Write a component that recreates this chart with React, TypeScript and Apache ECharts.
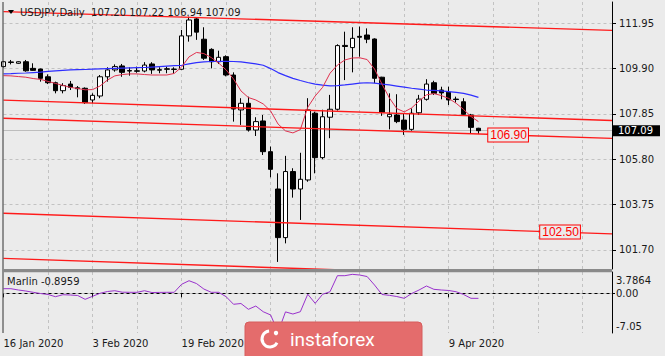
import React, { useEffect, useRef } from "react";
import * as echarts from "echarts";

const FONT = "DejaVu Sans";
const BG = "#ebebeb";

const dates = [
  "16 Jan 2020","17 Jan 2020","20 Jan 2020","21 Jan 2020","22 Jan 2020","23 Jan 2020","24 Jan 2020","27 Jan 2020","28 Jan 2020","29 Jan 2020",
  "30 Jan 2020","31 Jan 2020","3 Feb 2020","4 Feb 2020","5 Feb 2020","6 Feb 2020","7 Feb 2020","10 Feb 2020","11 Feb 2020","12 Feb 2020",
  "13 Feb 2020","14 Feb 2020","17 Feb 2020","18 Feb 2020","19 Feb 2020","20 Feb 2020","21 Feb 2020","24 Feb 2020","25 Feb 2020","26 Feb 2020",
  "27 Feb 2020","28 Feb 2020","2 Mar 2020","3 Mar 2020","4 Mar 2020","5 Mar 2020","6 Mar 2020","9 Mar 2020","10 Mar 2020","11 Mar 2020",
  "12 Mar 2020","13 Mar 2020","16 Mar 2020","17 Mar 2020","18 Mar 2020","19 Mar 2020","20 Mar 2020","23 Mar 2020","24 Mar 2020","25 Mar 2020",
  "26 Mar 2020","27 Mar 2020","30 Mar 2020","31 Mar 2020","1 Apr 2020","2 Apr 2020","3 Apr 2020","6 Apr 2020","7 Apr 2020","8 Apr 2020",
  "9 Apr 2020","10 Apr 2020","13 Apr 2020","14 Apr 2020","15 Apr 2020",
];
const futureSlots = 18;
const labelIdx = [0, 12, 24, 60];

const opens = [
  109.99,110.20,110.14,110.21,109.91,109.88,109.53,109.26,108.90,109.20,
  109.03,109.01,108.48,108.66,109.53,109.84,110.02,109.81,109.80,109.79,
  110.11,109.85,109.89,109.86,109.87,111.38,112.15,111.23,110.77,110.21,
  110.44,109.61,108.03,108.33,107.12,107.53,106.14,104.45,102.25,105.24,
  104.45,104.86,107.88,105.87,107.70,108.06,110.95,110.85,111.36,111.42,
  111.24,109.51,107.72,107.80,107.57,107.15,107.90,108.51,109.26,108.93,
  108.83,108.52,108.40,107.80,107.20,
];
const closes = [
  110.21,110.18,110.21,109.80,109.82,109.46,109.26,108.90,109.13,109.05,
  108.99,108.36,108.69,109.53,109.84,109.99,109.73,109.79,109.78,110.06,
  109.84,109.83,109.87,109.88,111.38,112.10,111.55,110.37,110.21,110.41,
  109.61,108.07,108.33,107.12,107.50,106.14,105.34,102.25,105.24,104.45,
  104.89,108.03,105.87,107.72,108.06,110.94,110.90,111.27,111.32,111.23,
  109.46,107.92,107.83,107.50,107.15,107.88,108.52,109.20,108.78,108.80,
  108.48,108.50,107.83,107.24,107.09,
];
const lows = [
  109.95,110.09,110.12,109.76,109.80,109.31,109.20,108.78,108.78,108.93,
  108.60,108.30,108.33,108.56,109.31,109.76,109.53,109.58,109.71,109.73,
  109.66,109.69,109.69,109.68,109.84,111.12,111.20,110.29,109.91,110.11,
  109.55,107.50,107.35,107.05,106.85,105.99,104.98,101.15,101.99,104.06,
  103.05,104.78,105.16,105.80,106.75,108.00,109.38,109.73,110.44,111.05,
  109.24,107.76,107.15,107.43,106.90,107.09,107.80,108.45,108.71,108.51,
  108.25,108.36,107.76,106.97,106.94,
];
const highs = [
  110.25,110.29,110.23,110.29,110.14,109.90,109.64,109.31,109.24,109.34,
  109.11,109.05,108.78,109.61,109.96,110.09,110.11,109.96,109.99,110.19,
  110.19,109.96,109.99,109.96,111.65,112.25,112.22,111.77,110.82,110.71,
  110.50,109.73,108.56,108.63,107.70,107.80,106.37,105.16,105.95,105.39,
  106.09,108.56,107.95,108.04,108.71,111.00,111.57,111.77,111.80,111.72,
  111.27,109.53,108.78,108.74,107.88,108.10,108.71,109.42,109.35,109.08,
  109.08,108.63,108.56,107.85,107.22,
];
const maSlow = [
  109.66,109.67,109.69,109.70,109.72,109.74,109.77,109.80,109.82,109.84,
  109.85,109.86,109.88,109.89,109.90,109.91,109.92,109.93,109.94,109.95,
  109.97,109.99,110.01,110.03,110.05,110.11,110.17,110.20,110.22,110.23,
  110.23,110.22,110.20,110.16,110.11,110.05,109.90,109.72,109.58,109.46,
  109.36,109.27,109.20,109.15,109.12,109.13,109.16,109.20,109.24,109.26,
  109.24,109.20,109.16,109.11,109.06,109.01,108.97,108.93,108.91,108.89,
  108.86,108.82,108.78,108.70,108.60,
];
const maFast = [
  109.58,109.57,109.54,109.51,109.45,109.41,109.32,109.23,109.14,109.05,
  109.00,108.94,108.95,109.11,109.38,109.57,109.63,109.66,109.66,109.63,
  109.61,109.61,109.61,109.68,109.97,110.43,110.63,110.58,110.40,110.15,
  109.84,109.43,108.89,108.59,108.48,108.30,107.98,107.39,107.08,106.99,
  107.14,108.15,108.66,109.05,109.69,110.06,110.29,110.38,110.39,110.31,
  109.88,109.20,108.57,108.09,107.94,108.12,108.43,108.71,108.77,108.68,
  108.55,108.33,108.05,107.73,107.50,
];
const marlin = [
  0.82,0.82,0.59,0.41,0.18,-0.04,-0.21,-0.6,-0.25,-0.3,
  -0.39,-1.07,-0.53,0,0.32,0.46,0.2,0.18,0.18,0.46,
  0.14,0.16,0.18,0.18,1.6,2.24,1.74,0.76,0.18,0.18,
  -0.6,-1.95,-1.81,-2.84,-2.26,-3.27,-3.85,-6.9,-3.3,-3.68,
  -3.27,-0.16,-1.78,-0.18,0.28,3.13,3.13,3.37,3.25,2.98,
  1.47,-0.21,-0.36,-0.57,-0.89,-0.04,0.59,1.3,0.71,0.59,
  0.5,0.28,-0.21,-0.89,-0.8959,
];

const priceTicks = [101.7, 103.75, 105.8, 107.85, 109.9, 111.95];
const priceMin = 100.83;
const priceMax = 112.914;
const marlinTicks = [-7.05, 0, 3.7864];
const marlinTickLabels = ["-7.05", "0.00", "3.7864"];

const channelStart = [112.48, 108.475, 107.65, 103.35, 101.31];
const channelEnd = [111.63, 107.55, 106.74, 102.42, 100.37];
const levelValues = [106.9, 102.5];
const levelIdx = [68, 75];
const levelLine = [2, 3];

export default function App() {
  const ref = useRef<HTMLDivElement>(null);
  useEffect(() => {
    if (!ref.current) return;
    const chart = echarts.init(ref.current, undefined, { renderer: "svg" });
    const cats = dates.concat(Array.from({ length: futureSlots }, (_, i) => `+${i + 1}`));
    const n = cats.length;
    const candles = dates.map((_, i) => [opens[i], closes[i], lows[i], highs[i]]);
    const gridColor = "#c2c2c2";
    const every6 = (i: number) => i > 0 && i % 6 === 0;
    const isLabel = (i: number) => labelIdx.indexOf(i) >= 0;
    const last = dates.length - 1;

    const channelSeries = channelStart.map((s, k) => {
      const lvl = levelLine.indexOf(k);
      return {
        type: "line",
        xAxisIndex: 0,
        yAxisIndex: 0,
        data: [[0, s], [n - 1, channelEnd[k]]],
        showSymbol: false,
        silent: true,
        z: 5,
        lineStyle: { color: "#ff1a1a", width: 1.4 },
        markPoint:
          lvl >= 0
            ? {
                symbol: "rect",
                symbolSize: 0,
                silent: true,
                z: 6,
                data: [{ coord: [levelIdx[lvl], levelValues[lvl]], value: levelValues[lvl].toFixed(2) }],
                label: {
                  show: true,
                  position: "inside",
                  formatter: levelValues[lvl].toFixed(2),
                  color: "#ff0000",
                  fontFamily: "Liberation Sans",
                  fontSize: 12,
                  backgroundColor: BG,
                  borderColor: "#ff0000",
                  borderWidth: 1,
                  padding: [1, 1, 0, 2],
                },
              }
            : undefined,
      };
    });

    const option: any = {
      animation: false,
      backgroundColor: BG,
      grid: [
        { left: 3.5, top: 2, width: 608.5, height: 267 },
        { left: 3.5, top: 272, width: 608.5, height: 61 },
      ],
      xAxis: [
        {
          type: "category",
          gridIndex: 0,
          data: cats,
          boundaryGap: false,
          axisLine: { show: false },
          axisTick: { show: false },
          axisLabel: { show: false },
          splitLine: { show: true, interval: every6, lineStyle: { color: gridColor, type: [3, 3], width: 1 } },
        },
        {
          type: "category",
          gridIndex: 1,
          data: cats,
          boundaryGap: false,
          axisLine: { show: true, lineStyle: { color: "#000", width: 1 } },
          axisTick: { show: true, interval: isLabel, length: 4, lineStyle: { color: "#000" } },
          axisLabel: {
            show: true,
            interval: isLabel,
            align: "left",
            margin: 5,
            color: "#1a1a1a",
            fontFamily: FONT,
            fontSize: 10,
          },
          splitLine: { show: true, interval: every6, lineStyle: { color: gridColor, type: [3, 3], width: 1 } },
        },
      ],
      yAxis: [
        {
          type: "value",
          gridIndex: 0,
          position: "right",
          min: priceMin,
          max: priceMax,
          scale: true,
          splitLine: { show: false },
          axisLine: { show: true, lineStyle: { color: "#000", width: 1 } },
          axisTick: { show: true, customValues: priceTicks, length: 4, lineStyle: { color: "#000" } },
          axisLabel: {
            show: true,
            customValues: priceTicks,
            formatter: (v: number) => v.toFixed(2),
            margin: 7,
            color: "#1a1a1a",
            fontFamily: FONT,
            fontSize: 10,
          },
        },
        {
          type: "value",
          gridIndex: 1,
          position: "right",
          min: marlinTicks[0],
          max: marlinTicks[2],
          splitLine: { show: false },
          axisLine: { show: true, lineStyle: { color: "#000", width: 1 } },
          axisTick: { show: true, customValues: [0], length: 3, lineStyle: { color: "#000" } },
          axisLabel: {
            show: true,
            customValues: marlinTicks,
            formatter: (v: number) => {
              const k = marlinTicks.indexOf(v);
              const txt = marlinTickLabels[k] ?? String(v);
              if (k === 2) return `{t|${txt}}`;
              if (k === 0) return `{b|${txt}}`;
              return `{m|${txt}}`;
            },
            margin: 4,
            color: "#1a1a1a",
            fontFamily: FONT,
            fontSize: 10,
            rich: {
              t: { padding: [16, 0, 0, 0], fontFamily: FONT, fontSize: 10, color: "#1a1a1a" },
              b: { padding: [0, 0, 14, 0], fontFamily: FONT, fontSize: 10, color: "#1a1a1a" },
              m: { fontFamily: FONT, fontSize: 10, color: "#1a1a1a" },
            },
          },
        },
      ],
      series: [
        {
          type: "candlestick",
          name: "USDJPY",
          xAxisIndex: 0,
          yAxisIndex: 0,
          data: candles,
          barWidth: 5,
          z: 3,
          silent: true,
          itemStyle: {
            color: "#ffffff",
            color0: "#000000",
            borderColor: "#000000",
            borderColor0: "#000000",
            borderWidth: 1,
          },
          markLine: {
            symbol: ["none", "none"],
            silent: true,
            z: 1,
            label: { show: false },
            data: [
              ...priceTicks.map((v) => ({
                yAxis: v,
                lineStyle: { color: gridColor, type: [3, 3], width: 1 },
                label: { show: false },
              })),
              {
                yAxis: closes[last],
                lineStyle: { color: "#bdbdbd", type: "solid", width: 1 },
                label: {
                  show: true,
                  position: "end",
                  distance: 1,
                  formatter: closes[last].toFixed(2),
                  backgroundColor: "#000",
                  color: "#fff",
                  fontFamily: FONT,
                  fontSize: 10,
                  padding: [1, 7, 0, 5],
                },
              },
            ],
          },
        },
        {
          type: "line",
          name: "MA slow",
          xAxisIndex: 0,
          yAxisIndex: 0,
          data: maSlow,
          showSymbol: false,
          silent: true,
          z: 4,
          lineStyle: { color: "#2e2eff", width: 1.2 },
        },
        {
          type: "line",
          name: "MA fast",
          xAxisIndex: 0,
          yAxisIndex: 0,
          data: maFast,
          showSymbol: false,
          silent: true,
          z: 4,
          lineStyle: { color: "#e0304e", width: 1 },
        },
        ...channelSeries,
        {
          type: "line",
          name: "Marlin",
          xAxisIndex: 1,
          yAxisIndex: 1,
          data: marlin,
          showSymbol: false,
          silent: true,
          z: 3,
          lineStyle: { color: "#9932cc", width: 1 },
          markLine: {
            symbol: ["none", "none"],
            silent: true,
            z: 1,
            label: { show: false },
            lineStyle: { color: gridColor, type: [3, 3], width: 1 },
            data: [{ yAxis: 0 }],
          },
        },
      ],
      graphic: [
        { type: "line", z: 50, shape: { x1: 3, y1: 2, x2: 3, y2: 333 }, style: { stroke: "#333", lineWidth: 1 } },
        { type: "rect", z: 50, shape: { x: 3, y: 269, width: 609, height: 3.2 }, style: { fill: "#8a8a8a" } },
        { type: "polygon", z: 50, shape: { points: [[8, 10], [14, 10], [11, 14]] }, style: { fill: "#000" } },
        {
          type: "text",
          z: 50,
          style: {
            text: `USDJPY,Daily  ${opens[last].toFixed(2)} ${highs[last].toFixed(2)} ${lows[last].toFixed(2)} ${closes[last].toFixed(2)}`,
            x: 20,
            y: 12,
            verticalAlign: "middle",
            fill: "#1a1a1a",
            fontFamily: FONT,
            fontSize: 10,
          },
        },
        {
          type: "text",
          z: 50,
          style: {
            text: `Marlin ${marlin[last]}`,
            x: 7,
            y: 281.5,
            verticalAlign: "middle",
            fill: "#1a1a1a",
            fontFamily: FONT,
            fontSize: 10,
          },
        },
        {
          type: "group",
          z: 100,
          children: [
            { type: "rect", z: 100, shape: { x: 245, y: 322, width: 177, height: 40, r: 4 }, style: { fill: "#e46c6c", stroke: "#d65c5c", lineWidth: 1 } },
            { type: "arc", z: 101, shape: { cx: 270, cy: 339, r: 8, startAngle: 0.5, endAngle: 4.6 }, style: { stroke: "#fff", lineWidth: 3, fill: "none" } },
            { type: "circle", z: 101, shape: { cx: 276, cy: 333, r: 2.2 }, style: { fill: "#fff" } },
            {
              type: "text",
              z: 101,
              style: {
                text: "instaforex",
                x: 290,
                y: 339,
                verticalAlign: "middle",
                fill: "#ffffff",
                fontFamily: "Roboto",
                fontSize: 19,
              },
            },
          ],
        },
      ],
    };
    chart.setOption(option);
    return () => chart.dispose();
  }, []);
  return <div ref={ref} style={{ position: "fixed", left: 0, top: 0, width: 665, height: 356 }} />;
}
